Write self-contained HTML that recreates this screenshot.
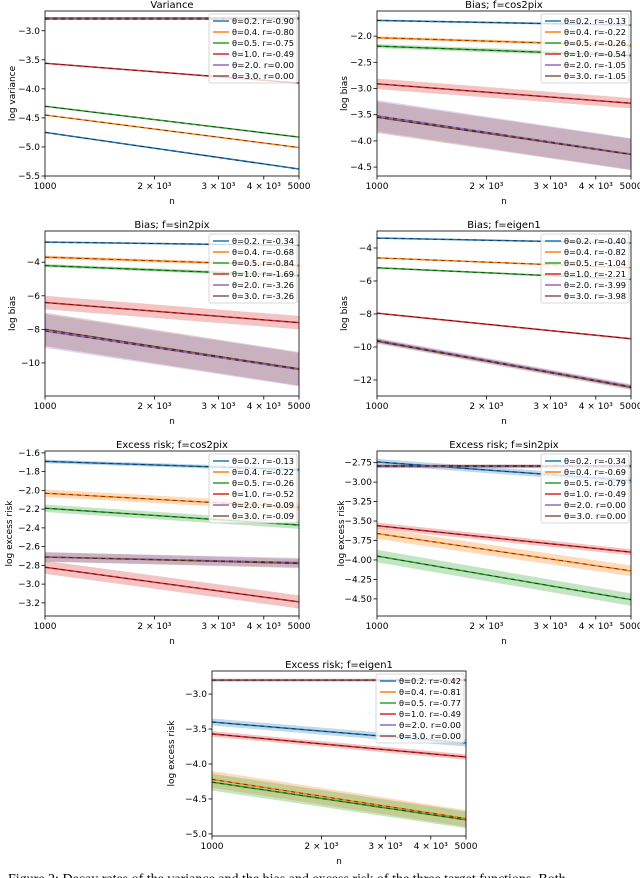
<!DOCTYPE html>
<html><head><meta charset="utf-8"><style>
body{margin:0;background:#fff;width:640px;height:878px;overflow:hidden;}
svg{display:block;font-family:"DejaVu Sans","Liberation Sans",sans-serif;}
</style></head><body>
<svg id="fig" width="640" height="878" viewBox="0 0 640 878">
<text x="8" y="883" font-family="Liberation Serif, serif" font-size="14" fill="#000">Figure 2: Decay rates of the variance and the bias and excess risk of the three target functions. Both</text>
</svg>
<script>
const colors=['#1f77b4','#ff7f0e','#2ca02c','#d62728','#9467bd','#8c564b'];
const thetas=['0.2','0.4','0.5','1.0','2.0','3.0'];
const xTicks=[1000,2000,3000,4000,5000];
const xTickLabels=['1000','2 × 10³','3 × 10³','4 × 10³','5000'];
const titles=['Variance','Bias;  f=cos2pix','Bias;  f=sin2pix','Bias;  f=eigen1','Excess risk;  f=cos2pix','Excess risk;  f=sin2pix','Excess risk;  f=eigen1'];
const ylabels=['log variance','log bias','log bias','log bias','log excess risk','log excess risk','log excess risk'];
const rates=[
['-0.90','-0.80','-0.75','-0.49','0.00','0.00'],
['-0.13','-0.22','-0.26','-0.54','-1.05','-1.05'],
['-0.34','-0.68','-0.84','-1.69','-3.26','-3.26'],
['-0.40','-0.82','-1.04','-2.21','-3.99','-3.98'],
['-0.13','-0.22','-0.26','-0.52','-0.09','-0.09'],
['-0.34','-0.69','-0.79','-0.49','0.00','0.00'],
['-0.42','-0.81','-0.77','-0.49','0.00','0.00']];
const yStart=[
[-4.75,-4.45,-4.30,-3.56,-2.80,-2.78],
[-1.70,-2.03,-2.19,-2.91,-3.52,-3.55],
[-2.8,-3.7,-4.2,-6.4,-8.1,-8.0],
[-3.4,-4.6,-5.2,-7.95,-9.6,-9.65],
[-1.69,-2.03,-2.19,-2.82,-2.71,-2.71],
[-2.74,-3.66,-3.95,-3.56,-2.80,-2.79],
[-3.40,-4.22,-4.26,-3.57,-2.80,-2.80]];
const yEnd=[
[-5.38,-5.01,-4.83,-3.90,-2.80,-2.78],
[-1.79,-2.18,-2.37,-3.28,-4.25,-4.26],
[-3.0,-4.2,-4.8,-7.6,-10.4,-10.35],
[-3.7,-5.2,-5.9,-9.5,-12.4,-12.45],
[-1.78,-2.18,-2.37,-3.19,-2.77,-2.78],
[-2.98,-4.14,-4.51,-3.90,-2.80,-2.79],
[-3.70,-4.78,-4.80,-3.90,-2.80,-2.80]];
const bandWidth=[
[0,0,0,0,0,0],
[0.02,0.03,0.04,0.1,0.3,0.3],
[0.05,0.1,0.1,0.4,1.0,1.0],
[0.05,0.05,0.05,0.05,0.15,0.15],
[0.02,0.04,0.04,0.07,0.05,0.05],
[0.04,0.07,0.08,0.04,0.02,0.02],
[0.05,0.12,0.12,0.04,0.02,0.02]];
const yTicks=[
[-3.0,-3.5,-4.0,-4.5,-5.0,-5.5],
[-2.0,-2.5,-3.0,-3.5,-4.0,-4.5],
[-4,-6,-8,-10],
[-4,-6,-8,-10,-12],
[-1.6,-1.8,-2.0,-2.2,-2.4,-2.6,-2.8,-3.0,-3.2],
[-2.75,-3.00,-3.25,-3.50,-3.75,-4.00,-4.25,-4.50],
[-3.0,-3.5,-4.0,-4.5,-5.0]];
const yDec=[1,1,0,0,1,2,1];
const yLim=[[-5.5,-2.66],[-4.67,-1.52],[-11.97,-2.14],[-12.97,-2.97],[-3.34,-1.58],[-4.72,-2.60],[-5.03,-2.67]];
const boxes=[[45,11],[377,11],[45,231],[377,231],[45,451],[377,451],[212,671]];
const W=254,H=165;
const svg=document.getElementById('fig');
const NS='http://www.w3.org/2000/svg';
function mk(t,a,p){const e=document.createElementNS(NS,t);for(const k in a)e.setAttribute(k,a[k]);(p||svg).appendChild(e);return e;}
for(let p=0;p<7;p++){
 const [L,T]=boxes[p];
 const g=mk('g',{});
 
 
 const xs=n=>L+(Math.log10(n)-3)/Math.log10(5)*W;
 const ys=v=>T+H-(v-yLim[p][0])/(yLim[p][1]-yLim[p][0])*H;
 const clip=mk('clipPath',{id:'c'+p},g);mk('rect',{x:L,y:T,width:W,height:H},clip);
 const pl=mk('g',{'clip-path':'url(#c'+p+')'},g);
 for(let s=0;s<6;s++){
  const b=bandWidth[p][s];
  if(b>0){
   const poly=mk('polygon',{points:`${xs(1000)},${ys(yStart[p][s]+b)} ${xs(5000)},${ys(yEnd[p][s]+b)} ${xs(5000)},${ys(yEnd[p][s]-b)} ${xs(1000)},${ys(yStart[p][s]-b)}`,fill:colors[s],'fill-opacity':0.28},pl);
   
   
  }
 }
 for(let s=0;s<6;s++){
  const ln=mk('line',{x1:xs(1000),y1:ys(yStart[p][s]),x2:xs(5000),y2:ys(yEnd[p][s]),stroke:colors[s],'stroke-width':1.5},pl);
  
  
  const fit=mk('line',{x1:xs(1000),y1:ys(yStart[p][s]),x2:xs(5000),y2:ys(yEnd[p][s]),stroke:'#000','stroke-width':0.9,'stroke-dasharray':'4,4','stroke-opacity':0.6},pl);
  
  
 }
 const fr=mk('rect',{x:L,y:T,width:W,height:H,fill:'none',stroke:'#000','stroke-width':0.8},g);
 
 
 xTicks.forEach((n,i)=>{
  const x=xs(n);
  mk('line',{x1:x,y1:T+H,x2:x,y2:T+H+3.5,stroke:'#000','stroke-width':0.8},g);
  const t=mk('text',{x:x,y:T+H+13,'font-size':9,'text-anchor':'middle'},g);t.textContent=xTickLabels[i];
  
  
 });
 const xl=mk('text',{x:L+W/2,y:T+H+28,'font-size':9,'text-anchor':'middle'},g);xl.textContent='n';
 
 
 yTicks[p].forEach(v=>{
  const y=ys(v);
  mk('line',{x1:L-3.5,y1:y,x2:L,y2:y,stroke:'#000','stroke-width':0.8},g);
  const t=mk('text',{x:L-5,y:y+3,'font-size':9,'text-anchor':'end'},g);t.textContent=v.toFixed(yDec[p]).replace('-','−');
  
  
 });
 const yl=mk('text',{x:0,y:0,'font-size':9,'text-anchor':'middle',transform:`translate(${L-(p==4||p==5?33:p==6?38:30)},${T+H/2}) rotate(-90)`},g);yl.textContent=ylabels[p];
 
 
 const ti=mk('text',{x:L+W/2,y:T-3,'font-size':10,'text-anchor':'middle'},g);ti.textContent=titles[p];
 
 
 const lg=mk('g',{},g);
 
 
 const lx=L+W-90,ly=T+3;
 mk('rect',{x:lx,y:ly,width:88,height:69,fill:'#fff','fill-opacity':0.8,stroke:'#ccc','stroke-width':0.8,rx:2},lg);
 for(let s=0;s<6;s++){
  const yy=ly+7+s*11;
  const e=mk('g',{},lg);
  
  
  mk('line',{x1:lx+4,y1:yy,x2:lx+20,y2:yy,stroke:colors[s],'stroke-width':1.5},e);
  const t=mk('text',{x:lx+23,y:yy+3,'font-size':8,textLength:62,lengthAdjust:'spacingAndGlyphs'},e);t.textContent='θ='+thetas[s]+'. r='+rates[p][s];
 }
}
</script>
</body></html>
